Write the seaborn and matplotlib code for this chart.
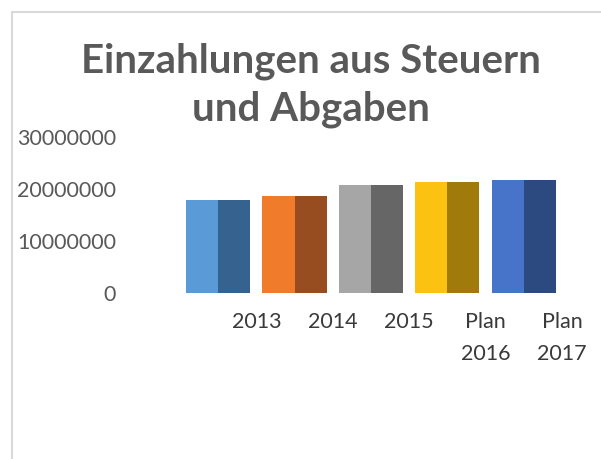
import pandas as pd
import numpy as np
import matplotlib.pyplot as plt
import seaborn as sns
from matplotlib.patches import Rectangle
from matplotlib.ticker import StrMethodFormatter

# Werte
jahre = ["2013", "2014", "2015", "Plan\n2016", "Plan\n2017"]
einzahlungen = [17900000, 18650000, 20800000, 21300000, 21700000]
y_ticks = [0, 10000000, 20000000, 30000000]

# Farben: helle Vorderseite / dunkle Seitenfläche (3D-Optik wie in Excel)
farben_hell = ["#5A9AD7", "#F07B2B", "#A6A6A6", "#FCC212", "#4774C8"]
farben_dunkel = ["#366290", "#984D20", "#666666", "#A07A0A", "#2C4A80"]


def build_df(jahre, werte):
    df = pd.DataFrame({"Jahr": jahre, "Wert": werte})
    links = df.assign(Seite="links")
    rechts = df.assign(Seite="rechts")
    return pd.concat([links, rechts], ignore_index=True)


def plot_chart(df, save_path="out.png"):
    sns.set_theme(style="white")
    plt.rcParams["font.family"] = ["Lato", "DejaVu Sans"]

    fig = plt.figure(figsize=(6.01, 4.59), dpi=100)
    ax = fig.add_axes([0.2995, 0.3617, 0.6355, 0.3398])

    sns.barplot(data=df, x="Jahr", y="Wert", hue="Seite", order=jahre,
                hue_order=["links", "rechts"], width=0.84, gap=0,
                dodge=True, legend=False, errorbar=None, ax=ax,
                linewidth=0, saturation=1)

    # Balken einfärben: erst alle linken, dann alle rechten Flächen
    n = len(jahre)
    for i, patch in enumerate(ax.patches[:2 * n]):
        if i < n:
            patch.set_facecolor(farben_hell[i])
        else:
            patch.set_facecolor(farben_dunkel[i - n])

    ax.set_ylim(0, 30000000)
    ax.set_xlim(-0.5, n - 0.5)
    ax.set_yticks(y_ticks)
    ax.yaxis.set_major_formatter(StrMethodFormatter("{x:.0f}"))
    ax.set_xticks(np.arange(n) + 0.5)
    ax.set_xticklabels(jahre, linespacing=1.7, va="top")
    ax.tick_params(axis="y", length=0, pad=46, labelsize=15.5, labelcolor="#595959")
    ax.tick_params(axis="x", length=0, pad=14, labelsize=15.5, labelcolor="#3A3A3A")
    ax.set_xlabel("")
    ax.set_ylabel("")
    for s in ax.spines.values():
        s.set_visible(False)

    fig.text(0.517, 0.815, "Einzahlungen aus Steuern\nund Abgaben", ha="center",
             va="center", fontsize=29, fontweight="bold", color="#595959",
             linespacing=1.35)

    # Rahmen des Diagrammbereichs
    fig.add_artist(Rectangle((12 / 601, -0.1), 1.2, 1 - 12 / 459 + 0.1,
                             transform=fig.transFigure, fill=False,
                             edgecolor="#D9D9D9", linewidth=1.5))

    fig.savefig(save_path, dpi=100)


df = build_df(jahre, einzahlungen)
plot_chart(df)
